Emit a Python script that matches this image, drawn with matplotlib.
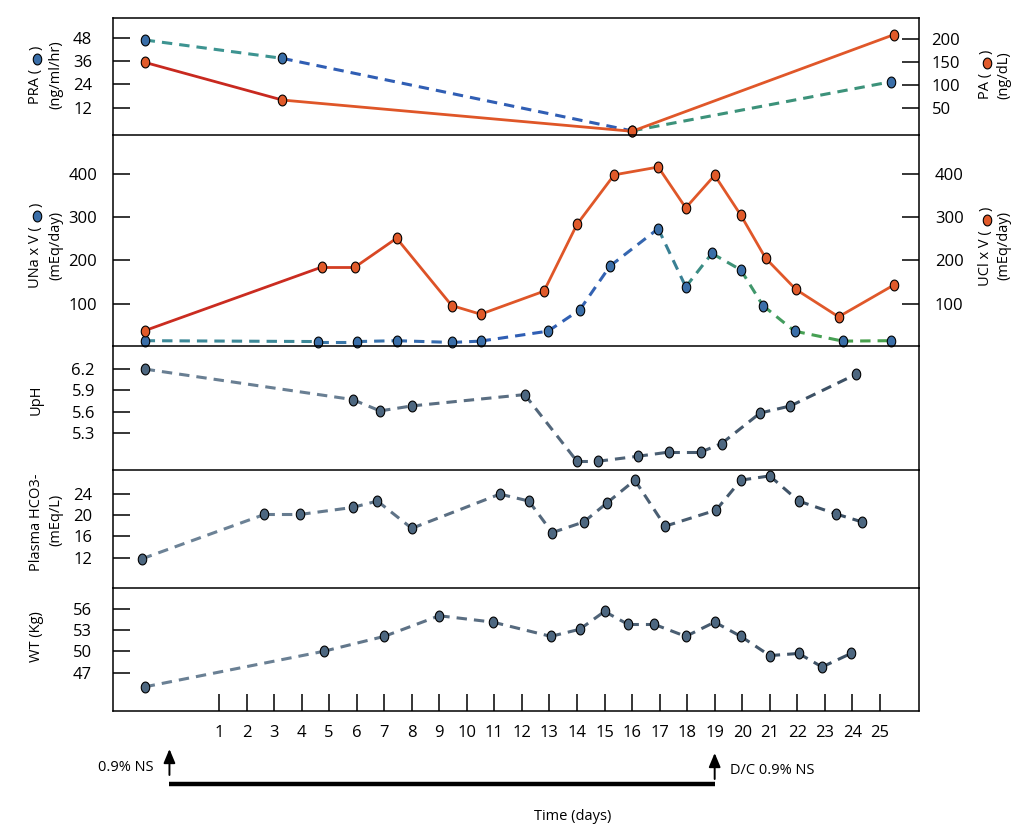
import numpy as np
import matplotlib
matplotlib.use("Agg")
import matplotlib.pyplot as plt
from matplotlib.path import Path
from matplotlib.colors import to_rgb
import matplotlib.transforms as mtransforms

plt.rcParams['font.family'] = ['Open Sans', 'DejaVu Sans']
FS = 10.5
TFS = 12

# ---------------- data ----------------
pra_days = [-1.7, 3.3, 16.0, 25.4]
pra_vals = [47, 37.5, 0, 25.4]
pa_days = [-1.7, 3.3, 16.0, 25.5]
pa_vals = [150, 68, 0, 210]

una_days = [-1.7, 4.6, 6.0, 7.45, 9.45, 10.5, 12.95, 14.1, 15.2, 16.95, 17.95, 18.9, 19.95, 20.75, 21.9, 23.65, 25.4]
una_vals = [15, 13, 13, 15, 11, 14, 37, 86, 187, 273, 139, 216, 178, 96, 37, 14, 15]
ucl_days = [-1.7, 4.75, 5.95, 7.45, 9.45, 10.5, 12.8, 14.0, 15.35, 16.95, 17.95, 19.0, 19.95, 20.85, 21.95, 23.5, 25.5]
ucl_vals = [38, 185, 185, 251, 96, 76, 129, 283, 397, 415, 321, 396, 304, 205, 133, 70, 143]

uph_days = [-1.7, 5.85, 6.85, 8.0, 12.1, 14.0, 14.75, 16.2, 17.35, 18.5, 19.25, 20.65, 21.75, 24.15]
uph_vals = [6.20, 5.77, 5.61, 5.68, 5.84, 4.90, 4.90, 4.97, 5.03, 5.03, 5.15, 5.58, 5.68, 6.13]

hco3_days = [-1.8, 2.65, 3.95, 5.85, 6.75, 8.0, 11.2, 12.25, 13.1, 14.25, 15.1, 16.1, 17.2, 19.05, 19.95, 21.0, 22.05, 23.4, 24.35]
hco3_vals = [11.8, 20.1, 20.1, 21.4, 22.6, 17.5, 23.9, 22.6, 16.7, 18.7, 22.3, 26.5, 17.9, 20.9, 26.5, 27.3, 22.6, 20.2, 18.7]

wt_days = [-1.7, 4.8, 7.0, 9.0, 10.95, 13.05, 14.1, 15.0, 15.85, 16.8, 17.95, 19.0, 19.95, 21.0, 22.05, 22.9, 23.95]
wt_vals = [45.0, 50.0, 52.1, 55.0, 54.1, 52.1, 53.1, 55.6, 53.8, 53.8, 52.1, 54.1, 52.1, 49.4, 49.7, 47.8, 49.7]

day_ticks = list(range(1, 26))
ns_start_day = -0.8
ns_stop_day = 19.0

# ---------------- layout helpers ----------------
W, H = 1027, 830
fig = plt.figure(figsize=(W / 100, H / 100), dpi=100)

def fx(x):
    return x / W

def fy(y):
    return 1 - y / H

def make_ax(ytop, ybot):
    return fig.add_axes([fx(113), fy(ybot), fx(919) - fx(113), (ybot - ytop) / H])

XLIM = (-2.85, 26.42)

t = np.linspace(0, 2 * np.pi, 60)
ELL = Path(np.column_stack([0.78 * np.cos(t), np.sin(t)]), closed=True)

BLUE_M = '#3a6ea8'
ORANGE_M = '#e05a2a'
SLATE_M = '#4d6780'
MS = 7.8

def grad_line(ax, xs, ys, anchors, **kw):
    ax_x = [a[0] for a in anchors]
    cols = np.array([to_rgb(a[1]) for a in anchors])
    for i in range(len(xs) - 1):
        xm = 0.5 * (xs[i] + xs[i + 1])
        c = [float(np.interp(xm, ax_x, cols[:, k])) for k in range(3)]
        ax.plot(xs[i:i + 2], ys[i:i + 2], color=c, zorder=2, solid_capstyle='butt', **kw)

def markers(ax, xs, ys, fc):
    ax.plot(xs, ys, linestyle='none', marker=ELL, markersize=MS,
            markerfacecolor=fc, markeredgecolor='black', markeredgewidth=0.8,
            zorder=5, clip_on=False)

DASH = dict(linewidth=2.2, dashes=(3.4, 2.3))
SOLID = dict(linewidth=2.0)

orange_anchors = [(-2, '#c21f1f'), (4, '#cf3520'), (9, '#df5628'), (27, '#e0582a')]
slate_anchors = [(-2, '#71879b'), (10, '#5a6e82'), (27, '#34485c')]

def style_ax(ax, left_pad=14.5):
    ax.set_xlim(*XLIM)
    ax.tick_params(axis='y', direction='in', length=12.5, width=1.1,
                   labelsize=TFS, pad=left_pad)
    ax.tick_params(axis='x', bottom=False, labelbottom=False)
    for s in ax.spines.values():
        s.set_linewidth(1.1)
    ax.spines['bottom'].set_visible(False)
    ax.patch.set_alpha(0)

# ---------------- panel 1 ----------------
ax1 = make_ax(18, 135)
style_ax(ax1, 15)
ax1.set_ylim(-2.12, 58.35)
ax1.set_yticks([12, 24, 36, 48])
blue1 = [(-2, '#3f9a88'), (3, '#3b8f98'), (9, '#2f5db5'), (15, '#3466b0'), (20, '#3a9080'), (27, '#4aa040')]
grad_line(ax1, pra_days, pra_vals, blue1, **DASH)
markers(ax1, pra_days, pra_vals, BLUE_M)

ax1b = ax1.twinx()
ax1b.set_xlim(*XLIM)
ax1b.set_ylim(-8.05, 246.4)
ax1b.set_yticks([50, 100, 150, 200])
ax1b.tick_params(axis='y', direction='in', length=12.5, width=1.1, labelsize=TFS, pad=9)
for s in ax1b.spines.values():
    s.set_visible(False)
grad_line(ax1b, pa_days, pa_vals, orange_anchors, **SOLID)
markers(ax1b, pa_days, pa_vals, ORANGE_M)

# ---------------- panel 2 ----------------
ax2 = make_ax(135, 346)
style_ax(ax2, 11.5)
ax2.set_ylim(2.76, 488.8)
ax2.set_yticks([100, 200, 300, 400])
ax2.tick_params(axis='y', right=True, labelright=True)
blue2 = [(-2, '#3f9a88'), (5, '#3a78a8'), (12, '#2f5db5'), (16, '#3565b0'), (18, '#3a8a8a'), (22, '#45a055'), (27, '#4aa045')]
grad_line(ax2, una_days, una_vals, blue2, **DASH)
grad_line(ax2, ucl_days, ucl_vals, orange_anchors, **SOLID)
markers(ax2, una_days, una_vals, BLUE_M)
markers(ax2, ucl_days, ucl_vals, ORANGE_M)

# ---------------- panel 3 ----------------
ax3 = make_ax(346, 470)
style_ax(ax3, 13)
ax3.set_ylim(4.777, 6.525)
ax3.set_yticks([5.3, 5.6, 5.9, 6.2])
ax3.set_yticklabels(['5.3', '5.6', '5.9', '6.2'])
grad_line(ax3, uph_days, uph_vals, slate_anchors, **DASH)
markers(ax3, uph_days, uph_vals, SLATE_M)

# ---------------- panel 4 ----------------
ax4 = make_ax(470, 588)
style_ax(ax4, 15)
ax4.set_ylim(6.35, 28.4)
ax4.set_yticks([12, 16, 20, 24])
grad_line(ax4, hco3_days, hco3_vals, slate_anchors, **DASH)
markers(ax4, hco3_days, hco3_vals, SLATE_M)

# ---------------- panel 5 ----------------
ax5 = make_ax(588, 711)
style_ax(ax5, 15)
ax5.spines['bottom'].set_visible(True)
ax5.set_ylim(41.61, 58.9)
ax5.set_yticks([47, 50, 53, 56])
ax5.set_xticks(day_ticks)
ax5.set_xticklabels([str(d) for d in day_ticks])
ax5.tick_params(axis='x', bottom=True, labelbottom=True, direction='in',
                length=12, width=1.1, labelsize=TFS, pad=10)
grad_line(ax5, wt_days, wt_vals, slate_anchors, **DASH)
markers(ax5, wt_days, wt_vals, SLATE_M)

# ---------------- axis labels ----------------
def vtext(x, y, s, **kw):
    fig.text(fx(x), fy(y), s, rotation=90, fontsize=FS, **kw)

def label_with_dot(x, dot_y, prefix, color, gap=10):
    fig.text(fx(x), fy(dot_y + gap), prefix, rotation=90, rotation_mode='anchor',
             ha='right', va='center', fontsize=FS)
    fig.add_artist(plt.Line2D([fx(x + 0.5)], [fy(dot_y)], transform=fig.transFigure,
                              marker=ELL, markersize=MS, markerfacecolor=color,
                              markeredgecolor='black', markeredgewidth=0.8, linestyle='none'))
    fig.text(fx(x), fy(dot_y - gap + 1), ')', rotation=90, rotation_mode='anchor',
             ha='left', va='center', fontsize=FS)

# panel 1 left
label_with_dot(36, 59.3, 'PRA (', BLUE_M)
vtext(56, 74.5, '(ng/ml/hr)', ha='center', va='center')
# panel 1 right
label_with_dot(986, 62.7, 'PA (', ORANGE_M)
vtext(1004, 75, '(ng/dL)', ha='center', va='center')
# panel 2 left
label_with_dot(36, 216, 'UNa x V (', BLUE_M)
vtext(56, 245, '(mEq/day)', ha='center', va='center')
# panel 2 right
label_with_dot(986, 220, 'UCl x V (', ORANGE_M)
vtext(1004, 245, '(mEq/day)', ha='center', va='center')
# panels 3-5
vtext(36, 400, 'UpH', ha='center', va='center')
vtext(36, 522, 'Plasma HCO3-', ha='center', va='center')
vtext(56, 520, '(mEq/L)', ha='center', va='center')
vtext(36, 637, 'WT (Kg)', ha='center', va='center')

# ---------------- bottom annotations ----------------
trans = mtransforms.blended_transform_factory(ax5.transData, fig.transFigure)
ax5.annotate('', xy=(ns_start_day, fy(749)), xytext=(ns_start_day, fy(775)),
             xycoords=trans, textcoords=trans,
             arrowprops=dict(arrowstyle='-|>,head_length=0.6,head_width=0.25', color='black', lw=1.4,
                             mutation_scale=14, shrinkA=0, shrinkB=0),
             annotation_clip=False)
ax5.annotate('', xy=(ns_stop_day, fy(753)), xytext=(ns_stop_day, fy(779)),
             xycoords=trans, textcoords=trans,
             arrowprops=dict(arrowstyle='-|>,head_length=0.6,head_width=0.25', color='black', lw=1.4,
                             mutation_scale=14, shrinkA=0, shrinkB=0),
             annotation_clip=False)
ax5.plot([ns_start_day, ns_stop_day], [fy(783.5), fy(783.5)], transform=trans,
         color='black', linewidth=3.2, solid_capstyle='butt', clip_on=False)
fig.text(fx(154), fy(767), '0.9% NS', ha='right', va='center', fontsize=FS)
fig.text(fx(730), fy(770), 'D/C 0.9% NS', ha='left', va='center', fontsize=FS)
fig.text(fx(573), fy(816), 'Time (days)', ha='center', va='center', fontsize=FS)

fig.savefig('out.png', dpi=100)
